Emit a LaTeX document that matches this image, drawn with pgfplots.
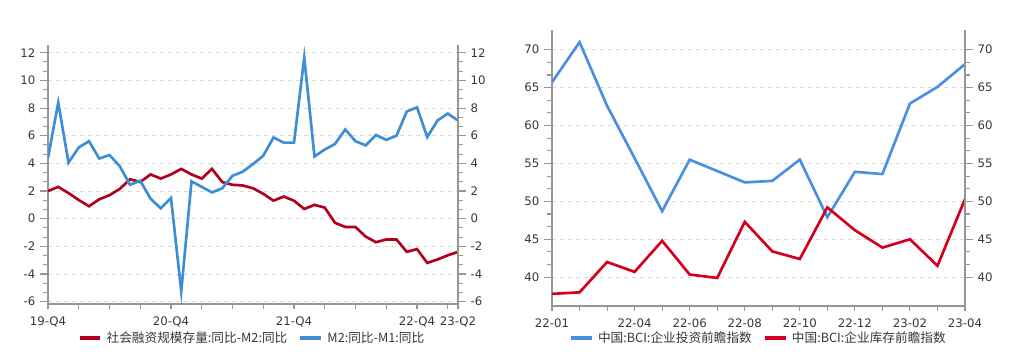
\documentclass[border=0pt]{standalone}
\usepackage{pgfplots}
\pgfplotsset{compat=1.18}
\usepackage{fontspec}
\setmainfont{DejaVu Sans}
\newfontfamily\cjk{Noto Sans CJK SC}
\definecolor{lred}{RGB}{178,0,30}
\definecolor{lblue}{RGB}{61,142,213}
\definecolor{rblue}{RGB}{74,144,226}
\definecolor{rred}{RGB}{212,0,30}
\definecolor{axisgray}{RGB}{150,150,150}
\definecolor{gridgray}{RGB}{218,218,218}
\definecolor{labelgray}{RGB}{55,55,55}
\pgfplotsset{
  common/.style={
    scale only axis,
    tick align=outside, major tick length=6pt, minor tick length=4pt,
    tick style={draw=axisgray, line width=0.8pt},
    axis line style={-, draw=axisgray, line width=0.9pt},
    ticklabel style={font=\fontsize{8.8}{10}\selectfont, text=labelgray},
    /pgf/number format/assume math mode=true,
    minor y tick num=2,
  },
  legstyle/.style={
    legend style={at={#1}, anchor=center, draw=none, fill=none, legend columns=2,
      font=\cjk\fontsize{9.5}{11}\selectfont, text=labelgray,
      nodes={inner xsep=1.5pt},
      /tikz/every odd column/.append style={column sep=2pt},
      /tikz/every even column/.append style={column sep=7pt}},
    legend image code/.code={\draw[##1, line width=2.6pt] (0pt,0pt) -- (15.5pt,0pt);},
  },
}
\begin{document}
\begin{tikzpicture}
\path[use as bounding box] (0,0) rectangle (759pt,270pt);
% ---------- left chart ----------
\begin{axis}[common,
  at={(36pt,42pt)}, anchor=south west, width=307.5pt, height=194.25pt,
  xmin=0, xmax=40, ymin=-6.17, ymax=12.56,
  axis x line*=bottom, axis y line*=left,
  xtick={0,12,24,36,40}, xticklabels={19-Q4,20-Q4,21-Q4,22-Q4,23-Q2},
  major x tick style={draw=none},
  minor xtick={0,3,6,9,12,15,18,21,24,27,30,33,36,39,40},
  ytick={-6,-4,-2,0,2,4,6,8,10,12},
  ymajorgrids, grid style={draw=gridgray, dash pattern=on 3pt off 3pt, line width=0.6pt},
  legstyle={(0.4976,-0.131)},
]
\addplot[draw=lred, line width=2pt] coordinates {
(0,2.0)(1,2.3)(2,1.85)(3,1.35)(4,0.9)(5,1.4)(6,1.7)(7,2.15)(8,2.85)(9,2.65)
(10,3.2)(11,2.9)(12,3.2)(13,3.6)(14,3.2)(15,2.9)(16,3.6)(17,2.65)(18,2.45)(19,2.4)
(20,2.2)(21,1.8)(22,1.3)(23,1.6)(24,1.3)(25,0.7)(26,1.0)(27,0.8)(28,-0.3)(29,-0.6)
(30,-0.6)(31,-1.3)(32,-1.7)(33,-1.5)(34,-1.5)(35,-2.4)(36,-2.2)(37,-3.2)(38,-2.95)(39,-2.65)
(40,-2.4)};
\addlegendentry{社会融资规模存量:同比-M2:同比}
\addplot[draw=lblue, line width=2pt] coordinates {
(0,4.4)(1,8.4)(2,4.05)(3,5.15)(4,5.6)(5,4.35)(6,4.6)(7,3.8)(8,2.45)(9,2.75)
(10,1.45)(11,0.75)(12,1.5)(13,-5.25)(14,2.7)(15,2.3)(16,1.9)(17,2.2)(18,3.1)(19,3.4)
(20,3.95)(21,4.55)(22,5.87)(23,5.5)(24,5.5)(25,11.65)(26,4.5)(27,5.0)(28,5.4)(29,6.45)
(30,5.6)(31,5.3)(32,6.05)(33,5.7)(34,6.0)(35,7.75)(36,8.05)(37,5.9)(38,7.1)(39,7.6)
(40,7.1)};
\addlegendentry{M2:同比-M1:同比}
\end{axis}
\begin{axis}[common,
  at={(36pt,42pt)}, anchor=south west, width=307.5pt, height=194.25pt,
  xmin=0, xmax=40, ymin=-6.17, ymax=12.56,
  axis y line*=right, axis x line=none,
  ytick={-6,-4,-2,0,2,4,6,8,10,12},
]
\addplot[draw=none] coordinates {(0,0)};
\end{axis}
% ---------- right chart ----------
\begin{axis}[common,
  at={(414pt,40.5pt)}, anchor=south west, width=309.75pt, height=207pt,
  xmin=0, xmax=15, ymin=36.2, ymax=72.6,
  axis x line*=bottom, axis y line*=left,
  xtick={0,3,5,7,9,11,13,15}, xticklabels={22-01,22-04,22-06,22-08,22-10,22-12,23-02,23-04},
  major x tick style={draw=none},
  minor xtick={0,1,2,3,4,5,6,7,8,9,10,11,12,13,14,15},
  ytick={40,45,50,55,60,65,70},
  ymajorgrids, grid style={draw=gridgray, dash pattern=on 3pt off 3pt, line width=0.6pt},
  legstyle={(0.5,-0.116)},
]
\addplot[draw=rblue, line width=2pt] coordinates {
(0,65.7)(1,71.0)(2,62.6)(3,55.7)(4,48.7)(5,55.5)(6,54.0)(7,52.5)
(8,52.7)(9,55.5)(10,47.9)(11,53.9)(12,53.6)(13,62.9)(14,65.1)(15,68.1)};
\addlegendentry{中国:BCI:企业投资前瞻指数}
\addplot[draw=rred, line width=2pt] coordinates {
(0,37.8)(1,38.0)(2,42.0)(3,40.7)(4,44.8)(5,40.35)(6,39.9)(7,47.3)
(8,43.4)(9,42.4)(10,49.2)(11,46.2)(12,43.9)(13,45.0)(14,41.5)(15,50.3)};
\addlegendentry{中国:BCI:企业库存前瞻指数}
\end{axis}
\begin{axis}[common,
  at={(414pt,40.5pt)}, anchor=south west, width=309.75pt, height=207pt,
  xmin=0, xmax=15, ymin=36.2, ymax=72.6,
  axis y line*=right, axis x line=none,
  ytick={40,45,50,55,60,65,70},
]
\addplot[draw=none] coordinates {(0,40)};
\end{axis}
\end{tikzpicture}
\end{document}
